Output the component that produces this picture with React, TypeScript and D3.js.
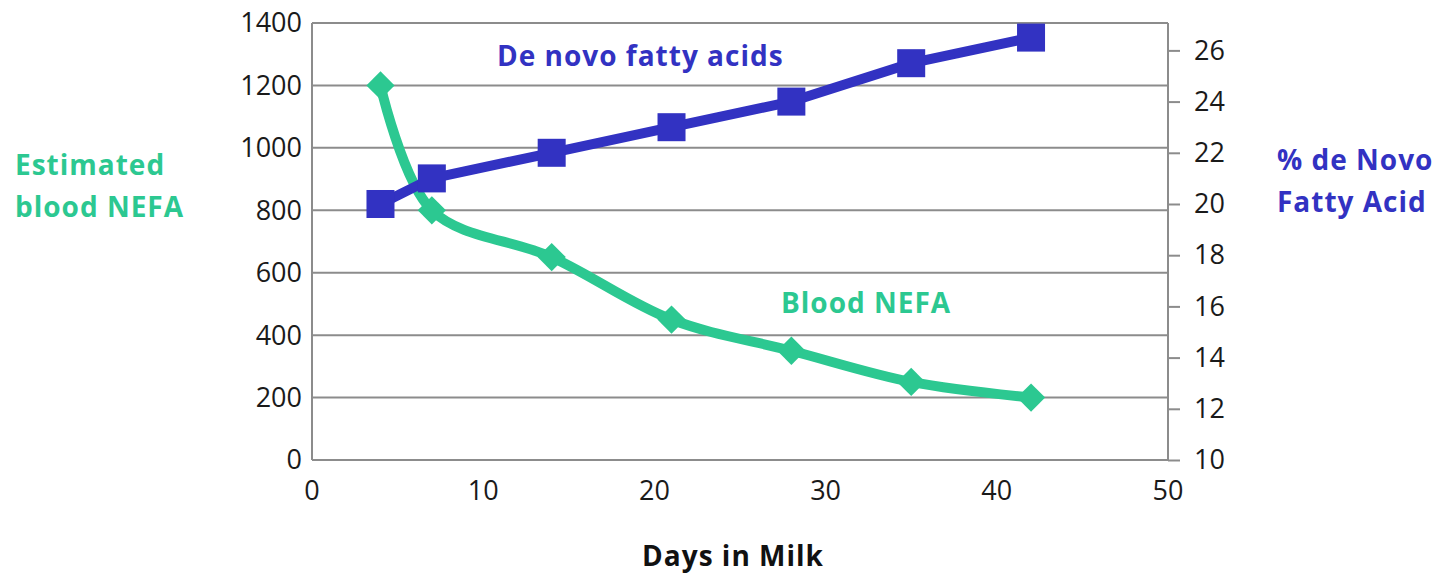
import React, { useEffect, useRef } from "react";
import * as d3 from "d3";

// Days in milk sampled
const days = [4, 7, 14, 21, 28, 35, 42];
// Estimated blood NEFA (left axis)
const nefa = [1200, 800, 650, 450, 350, 250, 200];
// % de novo fatty acids (right axis)
const denovo = [20, 21, 22, 23, 24, 25.5, 26.5];

const leftTicks = [0, 200, 400, 600, 800, 1000, 1200, 1400];
const rightTicks = [10, 12, 14, 16, 18, 20, 22, 24, 26];
const xTicks = [0, 10, 20, 30, 40, 50];

const BLUE = "#3232C2";
const GREEN = "#2CC891";
const FONT = "'Open Sans', sans-serif";

const App = () => {
  const svgRef = useRef<SVGSVGElement>(null);

  useEffect(() => {
    const width = 1445;
    const height = 573;
    const margin = { top: 23, right: 277, bottom: 113, left: 312 };

    const svg = d3.select(svgRef.current);
    svg.selectAll("*").remove();
    svg.attr("width", width).attr("height", height);

    const x = d3.scaleLinear().domain([0, 50]).range([margin.left, width - margin.right]);
    const yL = d3.scaleLinear().domain([0, 1400]).range([height - margin.bottom, margin.top]);
    const yR = d3.scaleLinear().domain([10, 27.07]).range([height - margin.bottom, margin.top]);

    // gridlines
    svg
      .append("g")
      .selectAll("line")
      .data(leftTicks)
      .join("line")
      .attr("x1", margin.left)
      .attr("x2", width - margin.right)
      .attr("y1", (d) => yL(d))
      .attr("y2", (d) => yL(d))
      .attr("stroke", "#8c8c8c")
      .attr("stroke-width", 2);

    // left axis line
    svg
      .append("line")
      .attr("x1", margin.left)
      .attr("x2", margin.left)
      .attr("y1", margin.top)
      .attr("y2", height - margin.bottom)
      .attr("stroke", "#8c8c8c")
      .attr("stroke-width", 2);

    // right axis
    const right = svg
      .append("g")
      .attr("transform", `translate(${width - margin.right},0)`)
      .call(d3.axisRight(yR).tickValues(rightTicks).tickSize(12).tickPadding(14).tickSizeOuter(0));
    right.select(".domain").attr("stroke", "#8c8c8c").attr("stroke-width", 2)
      .attr("d", `M0,${margin.top}V${height - margin.bottom}`);
    right.selectAll(".tick line").attr("stroke", "#8c8c8c").attr("stroke-width", 2);
    right.selectAll("text").attr("font-family", FONT).attr("font-size", 27).attr("fill", "#1a1a1a");

    // left tick labels
    svg
      .append("g")
      .selectAll("text")
      .data(leftTicks)
      .join("text")
      .attr("x", margin.left - 10)
      .attr("y", (d) => yL(d))
      .attr("dy", "0.35em")
      .attr("text-anchor", "end")
      .attr("font-family", FONT)
      .attr("font-size", 27)
      .attr("fill", "#1a1a1a")
      .text((d) => d);

    // x tick labels
    svg
      .append("g")
      .selectAll("text")
      .data(xTicks)
      .join("text")
      .attr("x", (d) => x(d))
      .attr("y", height - margin.bottom + 40)
      .attr("text-anchor", "middle")
      .attr("font-family", FONT)
      .attr("font-size", 27)
      .attr("fill", "#1a1a1a")
      .text((d) => d);

    // NEFA line
    const nefaPts = days.map((d, i) => [x(d), yL(nefa[i])] as [number, number]);
    svg
      .append("path")
      .attr("d", d3.line().curve(d3.curveCatmullRom.alpha(0.5))(nefaPts))
      .attr("fill", "none")
      .attr("stroke", GREEN)
      .attr("stroke-width", 10)
      .attr("stroke-linejoin", "round");

    svg
      .append("g")
      .selectAll("path")
      .data(nefaPts)
      .join("path")
      .attr("transform", (d) => `translate(${d[0]},${d[1]}) rotate(45)`)
      .attr("d", "M-10,-10H10V10H-10Z")
      .attr("fill", GREEN);

    // de novo line
    const dnPts = days.map((d, i) => [x(d), yR(denovo[i])] as [number, number]);
    svg
      .append("path")
      .attr("d", d3.line()(dnPts))
      .attr("fill", "none")
      .attr("stroke", BLUE)
      .attr("stroke-width", 10)
      .attr("stroke-linejoin", "round");

    svg
      .append("g")
      .selectAll("rect")
      .data(dnPts)
      .join("rect")
      .attr("x", (d) => d[0] - 14)
      .attr("y", (d) => d[1] - 14)
      .attr("width", 28)
      .attr("height", 28)
      .attr("fill", BLUE);

    // series labels
    const label = (tx: number, ty: number, text: string, fill: string, anchor = "start") =>
      svg
        .append("text")
        .attr("x", tx)
        .attr("y", ty)
        .attr("text-anchor", anchor)
        .attr("font-family", FONT)
        .attr("font-weight", "bold")
        .attr("font-size", 28)
        .attr("letter-spacing", 1)
        .attr("fill", fill)
        .text(text);

    label(497, 66, "De novo fatty acids", BLUE);
    label(781, 313, "Blood NEFA", GREEN);
    label(15, 175, "Estimated", GREEN);
    label(15, 217, "blood NEFA", GREEN);
    label(1277, 170, "% de Novo", BLUE);
    label(1277, 212, "Fatty Acid", BLUE);
    label(733, 566, "Days in Milk", "#111", "middle");
  }, []);

  return <svg ref={svgRef} style={{ position: "absolute", left: 0, top: 0 }}></svg>;
};

export default App;
